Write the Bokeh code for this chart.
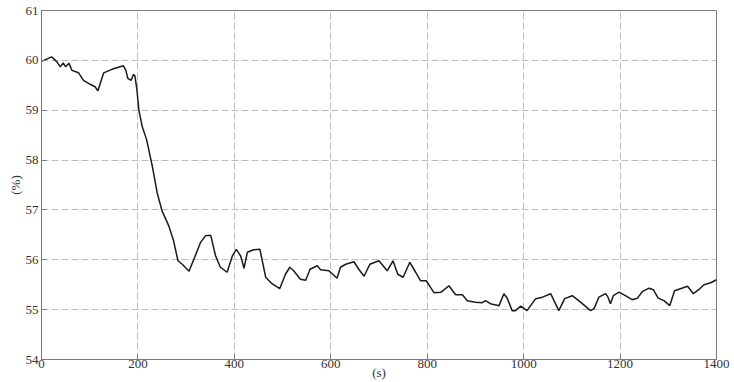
from bokeh.plotting import figure
from bokeh.models import Range1d, FixedTicker
from bokeh.embed import file_html
from bokeh.resources import INLINE

# ---- data ----
t_s = [0, 21, 32, 39, 45, 50, 57, 63, 77, 87,
       101, 111, 117, 122, 129, 146, 170, 175, 179, 186,
       191, 194, 198, 202, 209, 218, 230, 240, 250, 264,
       274, 283, 292, 306, 316, 330, 340, 351, 361, 371,
       385, 396, 404, 413, 420, 427, 440, 453, 465, 478,
       494, 506, 515, 523, 537, 548, 557, 572, 579, 596,
       613, 620, 631, 648, 658, 669, 681, 700, 717, 729,
       739, 750, 764, 776, 786, 798, 814, 829, 845, 859,
       873, 883, 900, 914, 921, 931, 949, 959, 966, 976,
       983, 994, 1007, 1025, 1039, 1056, 1073, 1085, 1101, 1118,
       1139, 1146, 1156, 1170, 1175, 1180, 1186, 1198, 1211, 1225,
       1236, 1246, 1260, 1269, 1279, 1291, 1303, 1313, 1325, 1340,
       1352, 1363, 1374, 1388, 1400]
pct = [59.98, 60.07, 59.97, 59.87, 59.95, 59.87, 59.94, 59.80, 59.75, 59.60,
       59.52, 59.47, 59.39, 59.54, 59.75, 59.82, 59.89, 59.80, 59.64, 59.60,
       59.72, 59.68, 59.40, 59.00, 58.67, 58.41, 57.87, 57.34, 56.98, 56.68,
       56.38, 55.98, 55.91, 55.77, 56.01, 56.35, 56.48, 56.49, 56.08, 55.85,
       55.75, 56.08, 56.21, 56.08, 55.83, 56.15, 56.20, 56.21, 55.65, 55.52,
       55.42, 55.71, 55.85, 55.78, 55.61, 55.59, 55.81, 55.88, 55.80, 55.78,
       55.63, 55.85, 55.91, 55.96, 55.81, 55.67, 55.91, 55.98, 55.78, 55.98,
       55.71, 55.65, 55.95, 55.75, 55.58, 55.58, 55.34, 55.35, 55.48, 55.30,
       55.30, 55.18, 55.15, 55.14, 55.18, 55.12, 55.08, 55.32, 55.23, 54.98,
       54.98, 55.07, 54.98, 55.22, 55.25, 55.32, 54.98, 55.22, 55.28, 55.15,
       54.98, 55.02, 55.25, 55.32, 55.25, 55.12, 55.28, 55.35, 55.28, 55.20,
       55.23, 55.36, 55.43, 55.40, 55.23, 55.18, 55.08, 55.38, 55.42, 55.47,
       55.32, 55.40, 55.50, 55.54, 55.60]

x_ticks = [0, 200, 400, 600, 800, 1000, 1200, 1400]
y_ticks = [54, 55, 56, 57, 58, 59, 60, 61]
x_label = "(s)"
y_label = "(%)"

FONT = "Liberation Serif"
AX = "#7a7a7a"
TXT = "#333333"

p = figure(width=734, height=382,
           x_range=Range1d(0, 1400), y_range=Range1d(54, 61),
           output_backend="svg", toolbar_location=None,
           min_border_left=41, min_border_right=18,
           min_border_top=10, min_border_bottom=21,
           background_fill_color="white", border_fill_color="white")

p.outline_line_color = AX
p.outline_line_width = 1

for ax in (p.xaxis, p.yaxis):
    ax.axis_line_color = AX
    ax.major_tick_line_color = AX
    ax.major_tick_in = 5
    ax.major_tick_out = 0
    ax.minor_tick_line_color = None
    ax.major_label_text_font = FONT
    ax.major_label_text_font_size = "13px"
    ax.major_label_text_color = TXT
    ax.axis_label_text_font = FONT
    ax.axis_label_text_font_size = "13px"
    ax.axis_label_text_font_style = "normal"
    ax.axis_label_text_color = TXT

p.xaxis.ticker = FixedTicker(ticks=x_ticks)
p.yaxis.ticker = FixedTicker(ticks=y_ticks)
p.xaxis.major_label_standoff = 0
p.yaxis.major_label_standoff = 3
p.xaxis.axis_label = x_label
p.xaxis.axis_label_standoff = -6
p.yaxis.axis_label = y_label
p.yaxis.axis_label_standoff = 0

for g in (p.xgrid, p.ygrid):
    g.grid_line_color = "#bdbdbd"
    g.grid_line_dash = "7 3"
    g.grid_line_width = 1
p.xgrid.ticker = FixedTicker(ticks=x_ticks)
p.ygrid.ticker = FixedTicker(ticks=y_ticks)

p.line(t_s, pct, line_color="#1a1a1a", line_width=1.5)

open("out.html", "w").write(file_html(p, INLINE))
